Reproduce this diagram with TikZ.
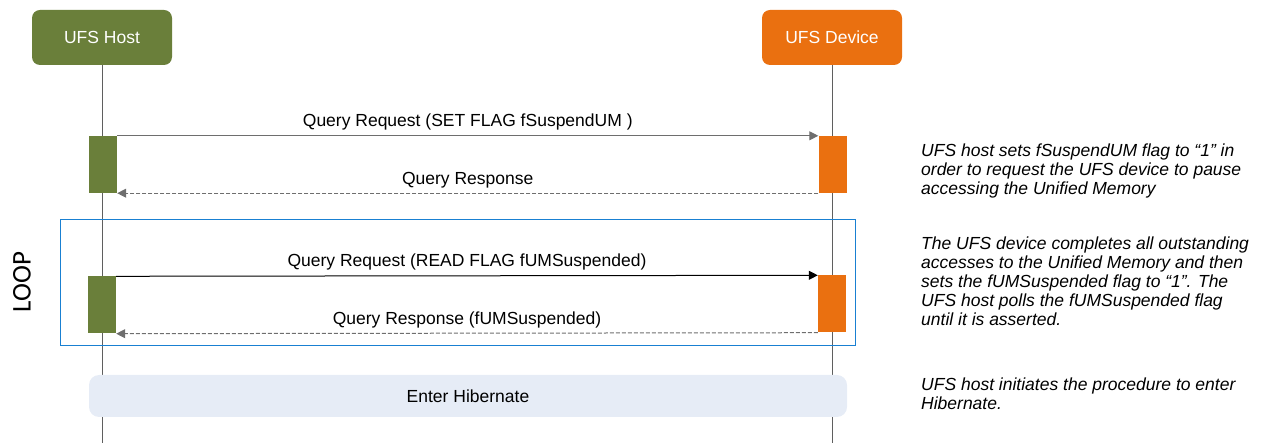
\documentclass[tikz,border=0pt]{standalone}
\usepackage{fontspec}
\setmainfont{Liberation Sans}
\newfontfamily\loopfont{Carlito}
\usetikzlibrary{arrows.meta}
\definecolor{hostgreen}{RGB}{106,127,58}
\definecolor{devorange}{RGB}{234,112,16}
\definecolor{loopblue}{RGB}{25,128,210}
\definecolor{hibfill}{RGB}{230,236,246}
\definecolor{lifegray}{RGB}{95,95,95}
\definecolor{msggray}{RGB}{110,110,110}

\begin{document}
\begin{tikzpicture}[x=1pt,y=-1pt,
  actor/.style={rounded corners=8pt, minimum width=140pt, minimum height=55pt,
    text=white, inner sep=0pt, font=\fontsize{17.5}{20}\selectfont},
  act/.style={minimum width=28pt, minimum height=57pt, inner sep=0pt},
  lifeline/.style={draw=lifegray, line width=1pt},
  msg/.style={line width=1pt, -{Triangle[length=9pt,width=9pt]}},
  resp/.style={line width=1pt, dashed, dash pattern=on 4pt off 2pt, -{Triangle[length=9pt,width=9pt]}},
  lbl/.style={anchor=base, yshift=9pt, inner sep=0pt, font=\fontsize{17.5}{20}\selectfont},
  note/.style={anchor=north west, align=left, inner sep=0pt,
    font=\fontsize{17.5}{19}\selectfont\itshape}]
\useasboundingbox (0,0) rectangle (1270,443);

% participants and lifelines
\node[actor, fill=hostgreen] (host) at (102,37.5) {UFS Host};
\node[actor, fill=devorange] (dev) at (832,37.5) {UFS Device};
\coordinate (hostend) at (102,443);
\coordinate (devend) at (832,443);
\draw[lifeline] (host.south) -- (hostend);
\draw[lifeline] (dev.south) -- (devend);

% loop frame
\node[draw=loopblue, line width=1pt, minimum width=795pt, minimum height=126pt,
  inner sep=0pt] (loop) at (457.5,283) {};
\node[rotate=90, font=\loopfont\fontsize{27}{30}\selectfont] (looplbl) at (22,282) {LOOP};

% first exchange
\node[act, fill=hostgreen] (h1) at (103,164.5) {};
\node[act, fill=devorange] (d1) at (832.5,164.5) {};
\draw[msg, draw=msggray] (h1.north east) -- (d1.north west)
  node[lbl, midway] (m1) {Query Request (SET FLAG fSuspendUM )};
\draw[resp, draw=msggray] (d1.south west) -- (h1.south east)
  node[lbl, midway] (r1) {Query Response};

% polling exchange
\node[act, fill=hostgreen] (h2) at (102,305) {};
\node[act, fill=devorange] (d2) at (832,304) {};
\draw[msg] (h2.north east) -- (d2.north west)
  node[lbl, midway] (m2) {Query Request (READ FLAG fUMSuspended)};
\draw[resp, draw=msggray] (d2.south west) -- (h2.south east)
  node[lbl, midway] (r2) {Query Response (fUMSuspended)};

% hibernate step
\node[fill=hibfill, rounded corners=10pt, minimum width=758pt, minimum height=42pt,
  inner sep=0pt, font=\fontsize{17.5}{20}\selectfont] (hib) at (468,396) {Enter Hibernate};

% side notes
\node[note] (n1) at (921,144) {UFS host sets fSuspendUM flag to “1” in\\
  order to request the UFS device to pause\\accessing the Unified Memory};
\node[note] (n2) at (921,237) {The UFS device completes all outstanding\\
  accesses to the Unified Memory and then\\sets the fUMSuspended flag to “1”. The\\
  UFS host polls the fUMSuspended flag\\until it is asserted.};
\node[note] (n3) at (921,378) {UFS host initiates the procedure to enter\\Hibernate.};
\end{tikzpicture}
\end{document}
